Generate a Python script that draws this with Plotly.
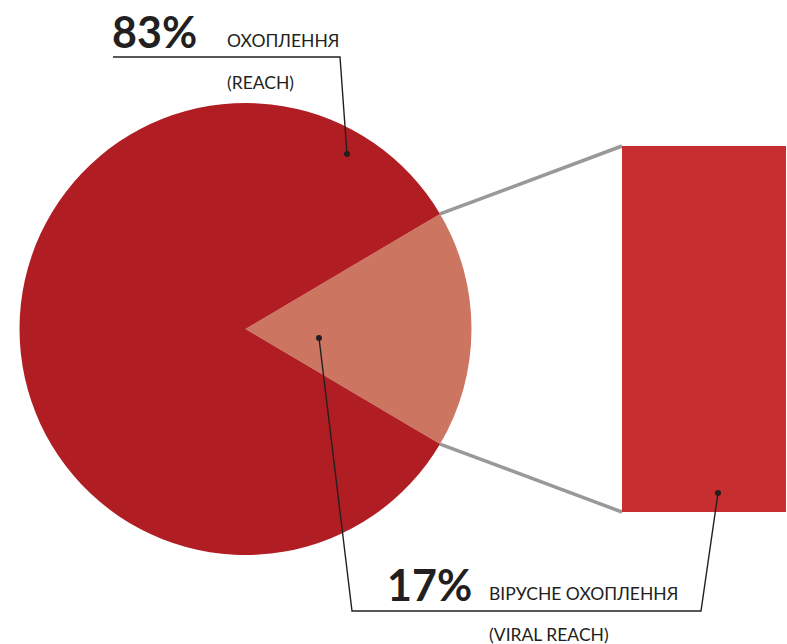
import math
import plotly.graph_objects as go

# Share of reach: viral vs. total
slice_labels = ["Вірусне охоплення (Viral reach)", "Охоплення (Reach)"]
slice_values = [17, 83]
slice_colors = ["#cc7560", "#b01e23"]

# Breakdown bar for the small slice
bar_values = [17]
bar_color = "#c72e2f"

W, H = 787, 644

# Pie placement (pixels)
cx, cy, r = 245.5, 329.0, 226.0
pie_dom_x = [(cx - r) / W, (cx + r) / W]
pie_dom_y = [1 - (cy + r) / H, 1 - (cy - r) / H]

# Bar placement (pixels)
bar_left, bar_right, bar_top, bar_bottom = 622, 786, 146, 512
bar_dom_x = [bar_left / W, bar_right / W]
bar_dom_y = [1 - bar_bottom / H, 1 - bar_top / H]


def px(x, y):
    return x / W, 1 - y / H


small_share = slice_values[0] / sum(slice_values)
half_angle = small_share * 360 / 2

fig = go.Figure()
fig.add_trace(go.Pie(
    labels=slice_labels, values=slice_values, sort=False,
    direction="clockwise", rotation=90 - half_angle,
    marker=dict(colors=slice_colors, line=dict(width=0)),
    textinfo="none", hoverinfo="label+percent", showlegend=False,
    domain=dict(x=pie_dom_x, y=pie_dom_y),
))
fig.add_trace(go.Bar(
    x=[0], y=bar_values, width=1, marker=dict(color=bar_color, line=dict(width=0)),
    hoverinfo="y", showlegend=False,
))

shapes = []
# connectors from the small slice edges to the bar corners
a = math.radians(half_angle)
ex = cx + r * math.cos(a)
ey_top = cy - r * math.sin(a)
ey_bot = cy + r * math.sin(a)
for (y_pie, y_bar) in [(ey_top, bar_top), (ey_bot, bar_bottom)]:
    x0, y0 = px(ex, y_pie)
    x1, y1 = px(bar_left, y_bar)
    shapes.append(dict(type="line", xref="paper", yref="paper", x0=x0, y0=y0,
                       x1=x1, y1=y1, line=dict(color="#999999", width=3.5),
                       layer="below"))

ink = "#231f20"


def leader(points):
    d = "M " + " L ".join(f"{px(x, y)[0]:.5f},{px(x, y)[1]:.5f}" for x, y in points)
    return dict(type="path", xref="paper", yref="paper", path=d,
                line=dict(color=ink, width=1.4))


def dot(x, y):
    xp, yp = px(x, y)
    return dict(type="circle", xref="paper", yref="paper", xsizemode="pixel",
                ysizemode="pixel", xanchor=xp, yanchor=yp, x0=-3, x1=3, y0=-3, y1=3,
                fillcolor=ink, line=dict(color=ink, width=0))


shapes.append(leader([(113, 57), (340, 57), (347, 154)]))
shapes.append(dot(347, 154))
shapes.append(leader([(319, 338), (352, 611), (701, 611), (718, 493)]))
shapes.append(dot(319, 338))
shapes.append(dot(718, 493))

annotations = []


def label(x, y, text, size, bold=False):
    xp, yp = px(x, y)
    annotations.append(dict(
        xref="paper", yref="paper", x=xp, y=yp, xanchor="left", yanchor="middle",
        text=f"<b>{text}</b>" if bold else text, showarrow=False,
        font=dict(family="Lato", size=size, color=ink, weight=900 if bold else 400),
    ))


label(110, 31, f"{slice_values[1]}%", 43, bold=True)
label(225, 40, "ОХОПЛЕННЯ", 17.5)
label(225, 83, "(REACH)", 17.5)
label(385, 584, f"{slice_values[0]}%", 43, bold=True)
label(487, 593, "ВІРУСНЕ ОХОПЛЕННЯ", 17.5)
label(487, 634, "(VIRAL REACH)", 17.5)

fig.update_layout(
    width=W, height=H, margin=dict(l=0, r=0, t=0, b=0),
    paper_bgcolor="white", plot_bgcolor="rgba(0,0,0,0)",
    bargap=0,
    xaxis=dict(domain=bar_dom_x, range=[-0.5, 0.5], visible=False, fixedrange=True),
    yaxis=dict(domain=bar_dom_y, range=[0, bar_values[0]], visible=False, fixedrange=True),
    shapes=shapes, annotations=annotations,
)

fig.write_html("out.html")
